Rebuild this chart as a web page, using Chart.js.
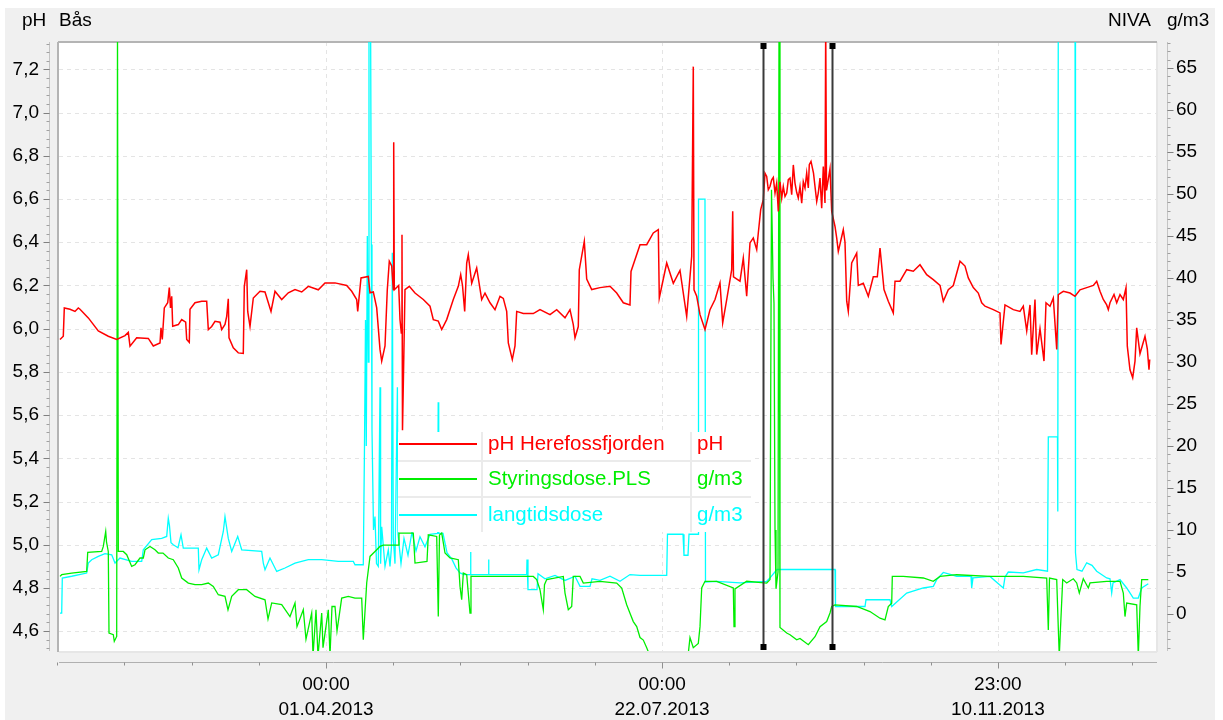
<!DOCTYPE html>
<html>
<head>
<meta charset="utf-8">
<title>pH Bås</title>
<script src="https://cdn.jsdelivr.net/npm/chart.js@4.4.1/dist/chart.umd.min.js"></script>
<style>
  html, body { margin: 0; padding: 0; background: #fff; }
  #wrap { width: 1223px; height: 720px; }
</style>
</head>
<body>
<div id="wrap"><canvas id="chart" width="1223" height="720"></canvas></div>
<script>
// time axis: days since 02.01.2013 00:00
const xMin = 0, xMax = 366;
const phMin = 4.508, phMax = 7.327;
const doseMin = -4.4, doseMax = 68.1;

const labelDays = [89, 201, 312.96];
const labelTimes = ['00:00', '00:00', '23:00'];
const labelDates = ['01.04.2013', '22.07.2013', '10.11.2013'];
const cursorDays = [234.67, 257.67];

const seriesNames = ['pH Herefossfjorden', 'Styringsdose.PLS', 'langtidsdose'];
const seriesUnits = ['pH', 'g/m3', 'g/m3'];
const seriesColors = ['#ff0000', '#00ee00', '#00ffff'];

// pH Herefossfjorden (left axis)
const phDay = [0.33,1.43,1.77,3.67,5.33,6.43,7,9.77,13.1,16.43,
  19.23,22,23.1,23.67,25.9,29.77,31.43,33.67,34,34.43,
  35.1,36.23,36.77,37.17,37.57,37.9,39.77,40.9,42.23,42.57,
  43.43,43.67,45.33,47.57,49.23,49.77,50.9,52,53.67,54.23,
  55.33,55.9,56.43,56.67,58.1,59.77,61.43,61.77,62.57,62.9,
  63.67,64.77,67,68.67,70.67,72,74.23,76.43,78.67,80.9,
  83.1,86.43,88.67,92,95.9,97.57,99.23,99.57,100.67,103.1,
  103.67,104.77,105.9,107,107.57,108.67,109.43,110.1,110.9,111.43,
  111.57,111.77,113.23,113.67,114.1,114.33,114.5,115.33,116.77,118.67,
  121.43,123.67,124.77,126.43,127.57,129.23,131.43,133.1,133.9,134.5,
  135.23,135.9,136.43,137.57,139.23,140.9,142,143.67,145.33,147,
  148.1,149.23,149.77,151.1,152,152.57,154.77,158.1,160.33,163.67,
  165.9,168.67,170.33,171.43,172,173.1,173.43,175.1,175.9,177.57,
  180.33,183.67,185.9,188.1,190.33,190.67,193.67,195.9,198.1,199.77,
  200.1,201.43,202.57,204.77,207,209.23,210.9,211.43,211.67,212.57,
  213.67,215.33,217,218.67,220.33,221.23,222.57,224.23,224.57,224.83,
  227,228.1,229.23,230.33,231.43,232.57,233.1,233.9,
  234.77,235.33,235.9,236.43,237,237.57,238.1,238.67,239.23,239.77,
  240.33,240.9,241.43,242,242.57,243.1,243.67,244.23,244.77,245.33,
  245.9,246.43,247,247.57,248.1,248.67,249.23,249.77,250.1,250.67,
  251.5,252,252.57,253.1,253.67,254.23,254.77,255.33,255.57,255.83,
  257,257.57,
  258.67,259.23,259.77,261.43,262,262.57,263.1,264.23,265.9,266.43,
  268.1,269.77,271.43,272.77,273.67,275,276.43,278.1,278.67,280.33,
  282.57,284.77,287,289.23,291.43,293.67,294.77,296.43,298.1,300.33,
  302,303.1,304.77,306.43,307.57,308.67,311.43,313.67,314,315.33,
  318.1,320.33,321.43,322.57,323.67,324.23,325.33,325.9,327,328.33,
  329,330.33,331.43,332.57,333.1,334.77,337,338.67,340.33,342.57,
  344.77,345.9,347,348.1,349.23,349.77,350.33,351.67,352.57,353.67,
  354.77,355.67,356.1,357,357.9,358.67,359.23,360.33,362,362.77,
  363.33,363.57];
const phVal = [5.95,5.965,6.096,6.09,6.08,6.096,6.09,6.05,5.99,5.965,
  5.95,5.968,5.983,5.919,5.958,5.955,5.92,5.934,6.004,5.95,
  6.096,6.12,6.19,6.096,6.15,6.011,6.019,6.042,6.03,5.95,
  5.937,6.09,6.12,6.127,6.127,5.996,6.01,6.034,6.03,5.996,
  6.02,6.057,6.138,5.958,5.911,5.888,5.885,6.196,6.273,6.08,
  6.011,6.142,6.173,6.17,6.08,6.173,6.135,6.166,6.181,6.17,
  6.196,6.18,6.212,6.212,6.2,6.173,6.135,6.08,6.235,6.242,
  6.166,6.17,6.096,5.904,5.85,5.92,6.18,6.312,6.29,6.181,
  6.863,6.18,6.2,6.042,5.98,6.435,5.53,6.181,6.196,6.165,
  6.135,6.104,6.042,6.035,5.996,6.042,6.135,6.196,6.25,6.2,
  6.08,6.304,6.343,6.21,6.281,6.135,6.165,6.12,6.088,6.15,
  6.14,6.08,5.934,5.857,5.92,6.08,6.07,6.07,6.088,6.065,
  6.088,6.05,6.088,6.019,5.958,6.01,6.273,6.404,6.23,6.181,
  6.19,6.196,6.165,6.12,6.11,6.265,6.389,6.389,6.443,6.458,
  6.142,6.23,6.304,6.21,6.27,6.057,6.335,7.213,6.18,6.15,
  6.065,5.996,6.088,6.135,6.212,6.027,6.135,6.273,6.543,6.24,
  6.22,6.327,6.15,6.397,6.42,6.366,6.443,6.551,
  6.597,6.72,6.705,6.643,6.658,6.689,6.70,6.628,6.674,6.543,
  6.68,6.605,6.658,6.612,6.628,6.69,6.697,6.62,6.758,6.674,
  6.63,6.605,6.658,6.581,6.68,6.651,6.72,6.651,6.759,6.774,
  6.72,6.658,6.589,6.628,6.697,6.558,6.75,6.582,7.4,6.64,
  6.74,6.543,
  6.473,6.42,6.358,6.458,6.40,6.127,6.08,6.304,6.35,6.2,
  6.21,6.15,6.24,6.24,6.373,6.181,6.127,6.073,6.22,6.22,
  6.273,6.266,6.296,6.25,6.227,6.2,6.127,6.18,6.2,6.312,
  6.29,6.235,6.19,6.165,6.12,6.104,6.088,6.073,5.927,6.11,
  6.088,6.08,6.104,5.99,6.11,5.88,6.135,5.88,6.0,5.85,
  6.12,6.104,6.142,5.904,6.158,6.173,6.165,6.15,6.18,6.19,
  6.2,6.219,6.173,6.135,6.11,6.088,6.12,6.158,6.12,6.158,
  6.135,6.189,5.919,5.81,5.773,5.85,6.004,5.884,5.965,5.907,
  5.81,5.857];

// Styringsdose.PLS (right axis, g/m3)
const styrDay = [0.33,0.9,4.23,9.23,9.57,14.23,14.77,15.57,15.83,16.43,
  16.67,18.1,18.43,19.23,19.5,19.77,21.43,22.57,24.23,25.33,
  27,28.1,28.67,30.33,32,33.1,34.67,36.43,38.1,39.77,
  40.9,43.1,45.33,47.57,49.77,51.43,53.1,55.33,56.33,57.57,
  59.77,62.57,65.33,68.67,69.67,70.9,74.23,77,78.67,79.33,
  81.43,82.33,84.23,84.67,85.67,86.33,87.57,88,89.77,90.33,
  91,92,92.67,94.23,96.43,98.67,100.9,101.43,102.57,103.67,
  105.33,107,108.1,113,113.33,118.1,118.67,122.67,123.1,125.9,
  126.43,126.83,127.57,128.67,130.33,133.1,133.67,134.23,134.77,135.9,
  137,137.33,138.1,144.77,152.57,158.1,159.23,160.33,161.43,161.83,
  162.57,168.1,168.67,169.77,170.9,171.43,173.67,174.77,180.33,185.9,
  187.57,189.23,190.33,191.43,192.57,193.67,194.77,195.9,197,209.67,
  210.33,211.43,213.1,213.67,214.23,215.33,219.23,224.77,225,225.33,
  229.23,235.9,237,237.5,238,238.33,238.67,239,239.67,240,
  240.33,242.57,243.67,245.9,247,249.77,252,253.67,255.9,257,
  257.57,258.67,265.9,270.33,273.67,275.33,276.43,277.57,277.77,281.43,
  288.1,291.43,293.67,299.23,310.33,321.43,329.23,329.77,330.17,332.57,
  333.1,333.43,333.83,334.57,335.9,338.1,339.23,340.1,341.43,343.1,
  343.67,349.23,353.67,354.77,355.33,355.9,359.23,359.77,360.33,360.9,
  363.1];
const styrVal = [4.48,4.68,4.88,5.07,7.33,7.45,8.05,9.83,8.6,7.45,
  -2.26,-2.46,-3.26,-2.67,70,7.45,7.45,7.06,5.67,5.87,
  6.67,6.67,7.65,8.05,7.65,7.26,7.26,6.67,6.47,5.48,
  4.29,3.69,3.5,3.5,3.69,3.29,2.3,2.1,0.5,2.1,
  2.9,2.9,2.1,1.7,-0.6,1.32,1.12,-0.3,1.32,-1.5,
  0.52,-3,0.13,-5,0.5,-5,0.13,-4,0.5,-5,
  0.9,0.92,-2,1.9,2.1,1.9,1.9,-3.06,3.69,6.86,
  7.45,8.05,8.2,8.2,9.64,9.64,6.07,6.27,9.44,9.24,
  -0.29,9.4,9.64,7.26,6.67,6.47,3.29,1.7,4.88,4.68,
  0.12,4.5,4.48,4.48,4.48,4.48,4.1,2.9,0.52,3.5,
  4.1,4.48,2.5,0.52,0.9,4.48,4.48,3.69,3.9,3.69,
  3.1,1.1,0.1,-0.9,-1.5,-2.8,-3.1,-4,-5,-5,
  -2.8,-4,-3.5,-1.5,3.1,3.9,3.9,3.1,-1.5,3.0,
  3.9,3.69,4.1,50.5,40,37,10,3,5,70,
  -1.6,-2.26,-2.46,-3.06,-2.9,-3.65,-2.7,-1.5,-0.9,0.12,
  0.9,1.1,0.9,0.3,-0.5,-0.7,0.9,1.3,4.48,4.48,
  4.29,3.9,4.48,4.68,4.48,4.48,4.29,-1.9,4.29,4.1,
  -1.7,-5,-1.7,4.1,3.7,4.2,3.7,2.5,4.2,3.1,
  3.7,3.9,3.9,2.5,-0.3,1.3,1.1,-5,0.9,4.1,
  4.1];

// langtidsdose (right axis, g/m3)
const langDay = [0.33,0.9,1.1,4.23,9.23,9.77,10.9,13.1,15.33,17.57,
  18.67,20.33,24.23,27.57,28.1,30.9,34.23,35.9,36.43,36.83,
  37.33,38.1,39.67,40.67,41.43,46.43,46.67,47.57,49.23,50.9,
  53.1,54.77,55.33,56.43,57.57,59.57,60.9,67.57,68.1,68.67,
  70.33,72.57,75.33,78.67,83.1,87.57,93.1,98.1,98.67,101.43,
  101.83,102.17,102.43,102.77,103.1,103.33,103.83,104.1,104.33,104.83,
  105.33,105.83,106.43,107,107.2,107.57,108.67,109.77,110.33,110.83,
  111.1,111.43,112,112.8,113,114,115,116.33,117.67,119,
  120.33,122,123.67,126.23,126.4,126.57,128,129.33,131,132.33,
  133.67,135,137,137.17,137.33,143,143.17,143.33,150.33,155.9,
  156,156.33,159.33,159.67,162,165.33,168.67,172,173.67,177,
  177.67,180.33,183.67,187,190.33,193.67,202.57,202.83,208,208.33,
  209.67,210,213,213.17,215.33,215.5,219.23,227,235.9,237,
  239.33,258.67,258.83,268.67,269,277,277.57,282.57,288.1,291.43,
  292.57,294.77,299.23,304,304.23,304.67,310.33,314.77,315.33,316.43,
  321.43,325.9,329.5,329.77,332.83,332.93,333.1,338.67,338.83,339.33,
  341,342.57,344.33,345.9,349.23,350.33,350.9,351.33,353.67,355.9,
  358.1,359.77,360.9,363.1];
const langVal = [0.12,0.12,4.29,4.5,4.88,6.07,6.47,6.86,7.18,7.06,
  6.07,6.67,6.27,6.27,7.65,8.85,9.0,9.24,11.4,10.5,
  8.5,8.25,7.9,9.44,7.85,7.85,5.27,6.47,7.85,6.67,
  7.06,9.83,11.6,9.0,7.45,9.24,7.65,7.45,6.07,5.27,
  6.67,5.07,5.48,6.07,6.47,6.47,6.27,6.27,5.87,5.87,
  20,35,20,45,30,75,75,44,22,10,
  11.6,6,5.67,27,6,10.4,5.67,7.65,5.67,8,
  43,9,6,27,9.5,6,9,7,9.8,7.5,
  9.2,8,9.5,9.6,25.2,9.6,9.6,7.3,6.5,5.5,
  4.9,4.7,4.7,7.4,4.7,4.7,6.5,4.7,4.7,4.7,
  6.5,2.9,2.9,4.8,4.2,4.6,4.0,4.5,3.3,3.3,
  4.2,4.0,4.5,3.9,4.7,4.6,4.6,9.5,9.5,7,
  7,9.5,9.5,49.4,49.4,3.8,3.9,3.7,3.9,4.3,
  5.3,5.3,0.9,0.9,1.7,1.7,0.9,2.5,3.1,3.3,
  4.1,4.95,4.5,4.5,3.1,4.3,4.48,3.1,4.4,5.0,
  4.9,5.3,5.1,21.1,21.1,12.2,75,75,7.3,5.3,
  5.1,6.1,5.8,5.1,4.3,4.2,2.5,3.7,4.1,3.1,
  1.9,1.9,3.1,3.6];

const FONT = '"Liberation Sans", Arial, sans-serif';

function pairs(xs, ys) {
  return xs.map((x, i) => ({ x: x, y: ys[i] }));
}

function line(ctx, x1, y1, x2, y2) {
  ctx.beginPath();
  ctx.moveTo(x1, y1);
  ctx.lineTo(x2, y2);
  ctx.stroke();
}

// panel, plot background, dashed grid
const framePlugin = {
  id: 'frame',
  beforeDraw(chart) {
    const { ctx, chartArea: a, scales } = chart;
    ctx.save();
    ctx.fillStyle = '#ffffff';
    ctx.fillRect(0, 0, chart.width, chart.height);
    ctx.fillStyle = '#f0f0f0';
    ctx.fillRect(5, 8, 1210, chart.height - 8);
    ctx.fillStyle = '#ffffff';
    ctx.fillRect(a.left, a.top, a.right - a.left, a.bottom - a.top);

    ctx.strokeStyle = '#e4e4e4';
    ctx.lineWidth = 1;
    ctx.setLineDash([4, 4]);
    scales.y.ticks.forEach(t => {
      const y = Math.round(scales.y.getPixelForValue(t.value)) + 0.5;
      line(ctx, a.left, y, a.right, y);
    });
    scales.x.ticks.forEach(t => {
      const x = Math.round(scales.x.getPixelForValue(t.value)) + 0.5;
      line(ctx, x, a.top, x, a.bottom);
    });
    ctx.setLineDash([]);

    // 3d-ish plot border
    ctx.lineWidth = 2;
    ctx.strokeStyle = '#e6e6e6';
    line(ctx, a.right, a.top, a.right, a.bottom + 1);
    line(ctx, a.left, a.bottom + 1, a.right, a.bottom + 1);
    ctx.strokeStyle = '#b4b4b4';
    line(ctx, a.left - 1, a.top, a.left - 1, a.bottom + 1);
    line(ctx, a.left - 1, a.top, a.right, a.top);
    ctx.restore();
  }
};

// offset axes, titles, cursors, legend table
const overlayPlugin = {
  id: 'overlay',
  afterDraw(chart) {
    const { ctx, chartArea: a, scales } = chart;
    const x = scales.x, y = scales.y, y2 = scales.y2;
    ctx.save();

    // left axis
    const lx = 49.5;
    ctx.lineWidth = 1;
    ctx.strokeStyle = '#c4c4c4';
    line(ctx, lx, a.top, lx, a.bottom);
    ctx.strokeStyle = '#a0a0a0';
    for (let k = Math.ceil(y.min / 0.04); k * 0.04 <= y.max; k++) {
      const py = Math.round(y.getPixelForValue(k * 0.04)) + 0.5;
      line(ctx, lx - 3, py, lx, py);
    }
    ctx.strokeStyle = '#808080';
    y.ticks.forEach(t => {
      const py = Math.round(y.getPixelForValue(t.value)) + 0.5;
      line(ctx, lx - 6, py, lx, py);
    });

    // right axis
    const rx = 1167.5;
    ctx.strokeStyle = '#c4c4c4';
    line(ctx, rx, a.top, rx, a.bottom);
    ctx.strokeStyle = '#a0a0a0';
    for (let v = Math.ceil(y2.min); v <= y2.max; v++) {
      const py = Math.round(y2.getPixelForValue(v)) + 0.5;
      line(ctx, rx, py, rx + 3, py);
    }
    ctx.strokeStyle = '#808080';
    y2.ticks.forEach(t => {
      const py = Math.round(y2.getPixelForValue(t.value)) + 0.5;
      line(ctx, rx, py, rx + 6, py);
    });

    // time axis below the plot
    const by = a.bottom + 11.5;
    ctx.strokeStyle = '#b0b0b0';
    line(ctx, a.left, by, a.right, by);
    const step = (labelDays[1] - labelDays[0]) / 5;
    let first = labelDays[0];
    while (first - step >= xMin - 1) first -= step;
    ctx.strokeStyle = '#909090';
    for (let d = first; d <= xMax; d += step) {
      const px = Math.round(x.getPixelForValue(d)) + 0.5;
      const major = labelDays.some(v => Math.abs(v - d) < 0.5);
      line(ctx, px, by, px, by + (major ? 6 : 3));
    }

    // titles
    ctx.fillStyle = '#000';
    ctx.font = '19px ' + FONT;
    ctx.textBaseline = 'middle';
    ctx.textAlign = 'left';
    ctx.fillText('pH', 22, 21);
    ctx.fillText('Bås', 59, 21);
    ctx.fillText('NIVA', 1108, 21);
    ctx.fillText('g/m3', 1167, 21);

    // cursors
    cursorDays.forEach(d => {
      const px = Math.round(x.getPixelForValue(d)) + 0.5;
      ctx.strokeStyle = '#3a3a3a';
      ctx.lineWidth = 2;
      line(ctx, px, a.top + 2, px, a.bottom - 6);
      ctx.fillStyle = '#000';
      ctx.fillRect(px - 3, a.top + 1, 6, 6);
      ctx.fillRect(px - 3, a.bottom - 7, 6, 6);
    });

    // legend table
    const L = { left: 398, top: 432, right: 751, bottom: 532, c1: 482, c2: 691 };
    const rowsY = [444, 479, 515];
    const seps = [461, 497];
    ctx.fillStyle = '#ffffff';
    ctx.fillRect(L.left, L.top, L.right - L.left, L.bottom - L.top);
    ctx.strokeStyle = '#ebebeb';
    ctx.lineWidth = 2;
    seps.forEach(s => line(ctx, L.left, s, L.right, s));
    line(ctx, L.c1, L.top, L.c1, L.bottom);
    line(ctx, L.c2, L.top, L.c2, L.bottom);
    ctx.font = '20.5px ' + FONT;
    chart.data.datasets.forEach((ds, i) => {
      const ry = rowsY[i];
      ctx.strokeStyle = ds.borderColor;
      ctx.lineWidth = 2;
      line(ctx, L.left + 1, ry, L.c1 - 5, ry);
      ctx.fillStyle = ds.borderColor;
      ctx.fillText(ds.label, L.c1 + 6, ry);
      ctx.fillText(seriesUnits[i], L.c2 + 6, ry);
    });

    ctx.restore();
  }
};

const ctx = document.getElementById('chart').getContext('2d');
const chart = new Chart(ctx, {
  type: 'line',
  data: {
    datasets: [
      { label: seriesNames[0], data: pairs(phDay, phVal), yAxisID: 'y',
        borderColor: seriesColors[0], borderWidth: 1.5, pointRadius: 0, tension: 0 },
      { label: seriesNames[1], data: pairs(styrDay, styrVal), yAxisID: 'y2',
        borderColor: seriesColors[1], borderWidth: 1.3, pointRadius: 0, tension: 0 },
      { label: seriesNames[2], data: pairs(langDay, langVal), yAxisID: 'y2',
        borderColor: seriesColors[2], borderWidth: 1.3, pointRadius: 0, tension: 0 }
    ]
  },
  options: {
    responsive: false,
    animation: false,
    devicePixelRatio: 1,
    layout: { padding: { top: 42, left: 0, right: 0, bottom: 0 } },
    plugins: { legend: { display: false }, tooltip: { enabled: false } },
    scales: {
      x: {
        type: 'linear', min: xMin, max: xMax,
        grid: { display: false, drawTicks: false }, border: { display: false },
        afterBuildTicks: s => { s.ticks = labelDays.map(v => ({ value: v })); },
        afterFit: s => { s.height = 69; },
        ticks: {
          autoSkip: false, maxRotation: 0, minRotation: 0, padding: 21, color: '#000',
          font: { family: FONT, size: 19, lineHeight: '25px' },
          callback: (v, i) => [labelTimes[i], labelDates[i]]
        }
      },
      y: {
        position: 'left', min: phMin, max: phMax,
        grid: { display: false, drawTicks: false }, border: { display: false },
        afterFit: s => { s.width = 59; },
        ticks: {
          stepSize: 0.2, includeBounds: false, padding: 20, color: '#000',
          font: { family: FONT, size: 19 },
          callback: v => v.toFixed(1).replace('.', ',')
        }
      },
      y2: {
        position: 'right', min: doseMin, max: doseMax,
        grid: { display: false, drawTicks: false }, border: { display: false },
        afterFit: s => { s.width = 66; },
        ticks: {
          stepSize: 5, includeBounds: false, padding: 19, color: '#000',
          font: { family: FONT, size: 19 },
          callback: v => String(Math.round(v))
        }
      }
    }
  },
  plugins: [framePlugin, overlayPlugin]
});
</script>
</body>
</html>
